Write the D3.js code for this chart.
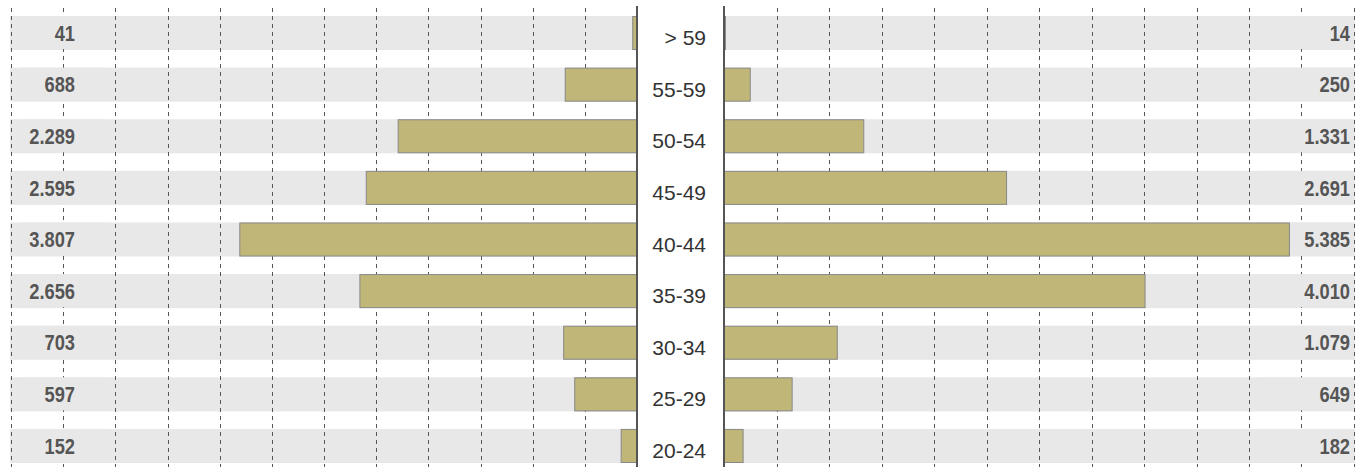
<!DOCTYPE html>
<meta charset="utf-8">
<style>body { margin: 0; background: #fff; }</style>
<svg width="1361" height="467"></svg>
<script src="https://cdn.jsdelivr.net/npm/d3@7"></script>
<script>

// age groups, top to bottom
var ageGroups = ["> 59", "55-59", "50-54", "45-49", "40-44", "35-39", "30-34", "25-29", "20-24"];
var leftValues = [41, 688, 2289, 2595, 3807, 2656, 703, 597, 152];
var rightValues = [14, 250, 1331, 2691, 5385, 4010, 1079, 649, 182];
var gridTicks = [0, 500, 1000, 1500, 2000, 2500, 3000, 3500, 4000, 4500, 5000, 5500, 6000];

var svg = d3.select("svg"),
    width = +svg.attr("width"),
    height = +svg.attr("height");

var fmt = d3.formatLocale({decimal: ",", thousands: ".", grouping: [3], currency: ["", "€"]}).format(",d");

var leftAxisX = 637, rightAxisX = 724;

var xLeft = d3.scaleLinear().domain([0, 6000]).range([leftAxisX, 11]);
var xRight = d3.scaleLinear().domain([0, 6000]).range([rightAxisX, 1354]);
var y = d3.scaleBand().domain(ageGroups).range([16, 463]).paddingInner(0.34).paddingOuter(0);

var rows = ageGroups.map(function(g, i) {
  return {group: g, left: leftValues[i], right: rightValues[i]};
});

// grey row bands
var bands = svg.append("g").attr("fill", "#e8e8e8");
bands.selectAll("rect.l")
  .data(rows)
  .enter().append("rect")
    .attr("class", "l")
    .attr("x", xLeft(6000) - 1)
    .attr("width", leftAxisX - xLeft(6000) + 1)
    .attr("y", function(d) { return y(d.group); })
    .attr("height", y.bandwidth());
bands.selectAll("rect.r")
  .data(rows)
  .enter().append("rect")
    .attr("class", "r")
    .attr("x", rightAxisX)
    .attr("width", xRight(6000) - rightAxisX + 1)
    .attr("y", function(d) { return y(d.group); })
    .attr("height", y.bandwidth());

// dashed grid
var grid = svg.append("g")
    .attr("stroke", "#555")
    .attr("stroke-width", 1)
    .attr("stroke-dasharray", "4,4");
grid.selectAll("line.l")
  .data(gridTicks.slice(1))
  .enter().append("line")
    .attr("class", "l")
    .attr("x1", function(d) { return Math.round(xLeft(d)) + 0.5; })
    .attr("x2", function(d) { return Math.round(xLeft(d)) + 0.5; })
    .attr("y1", 8).attr("y2", height);
grid.selectAll("line.r")
  .data(gridTicks.slice(1))
  .enter().append("line")
    .attr("class", "r")
    .attr("x1", function(d) { return Math.round(xRight(d)) + 0.5; })
    .attr("x2", function(d) { return Math.round(xRight(d)) + 0.5; })
    .attr("y1", 8).attr("y2", height);

// grey boxes behind the value labels (they hide the grid there)
var boxes = svg.append("g").attr("fill", "#e8e8e8");
boxes.selectAll("rect.l")
  .data(rows)
  .enter().append("rect")
    .attr("class", "l")
    .attr("x", 20).attr("width", 86)
    .attr("y", function(d) { return y(d.group); })
    .attr("height", y.bandwidth() - 1);
boxes.selectAll("rect.r")
  .data(rows)
  .enter().append("rect")
    .attr("class", "r")
    .attr("x", 1258).attr("width", 94)
    .attr("y", function(d) { return y(d.group); })
    .attr("height", y.bandwidth() - 1);

// bars
var bars = svg.append("g")
    .attr("fill", "#bfb678")
    .attr("stroke", "#888")
    .attr("stroke-width", 1);
bars.selectAll("rect.l")
  .data(rows)
  .enter().append("rect")
    .attr("class", "l")
    .attr("x", function(d) { return xLeft(d.left); })
    .attr("width", function(d) { return leftAxisX - xLeft(d.left); })
    .attr("y", function(d) { return y(d.group) + 0.5; })
    .attr("height", y.bandwidth() - 1);
bars.selectAll("rect.r")
  .data(rows)
  .enter().append("rect")
    .attr("class", "r")
    .attr("x", rightAxisX)
    .attr("width", function(d) { return xRight(d.right) - rightAxisX; })
    .attr("y", function(d) { return y(d.group) + 0.5; })
    .attr("height", y.bandwidth() - 1);

// axis lines
svg.append("g")
    .attr("stroke", "#555")
    .attr("stroke-width", 2)
  .selectAll("line")
  .data([leftAxisX, rightAxisX])
  .enter().append("line")
    .attr("x1", function(d) { return d; })
    .attr("x2", function(d) { return d; })
    .attr("y1", 6).attr("y2", height);

// value labels, condensed bold
var labels = svg.append("g")
    .attr("font-family", "'Liberation Sans', Arial, sans-serif")
    .attr("font-weight", "bold")
    .attr("font-size", 22)
    .attr("fill", "#555")
    .attr("text-anchor", "end");
labels.selectAll("text.l")
  .data(rows)
  .enter().append("text")
    .attr("class", "l")
    .attr("transform", function(d) { return "translate(75," + (y(d.group) + y.bandwidth() / 2) + ")scale(0.83,1)"; })
    .attr("dy", "0.35em")
    .text(function(d) { return fmt(d.left); });
labels.selectAll("text.r")
  .data(rows)
  .enter().append("text")
    .attr("class", "r")
    .attr("transform", function(d) { return "translate(1350," + (y(d.group) + y.bandwidth() / 2) + ")scale(0.83,1)"; })
    .attr("dy", "0.35em")
    .text(function(d) { return fmt(d.right); });

// age group labels in the middle
svg.append("g")
    .attr("font-family", "'Liberation Sans', Arial, sans-serif")
    .attr("font-size", 21)
    .attr("fill", "#333")
    .attr("text-anchor", "end")
  .selectAll("text")
  .data(rows)
  .enter().append("text")
    .attr("x", 706)
    .attr("y", function(d) { return y(d.group) + y.bandwidth() / 2 + 12; })
    .text(function(d) { return d.group; });

</script>
